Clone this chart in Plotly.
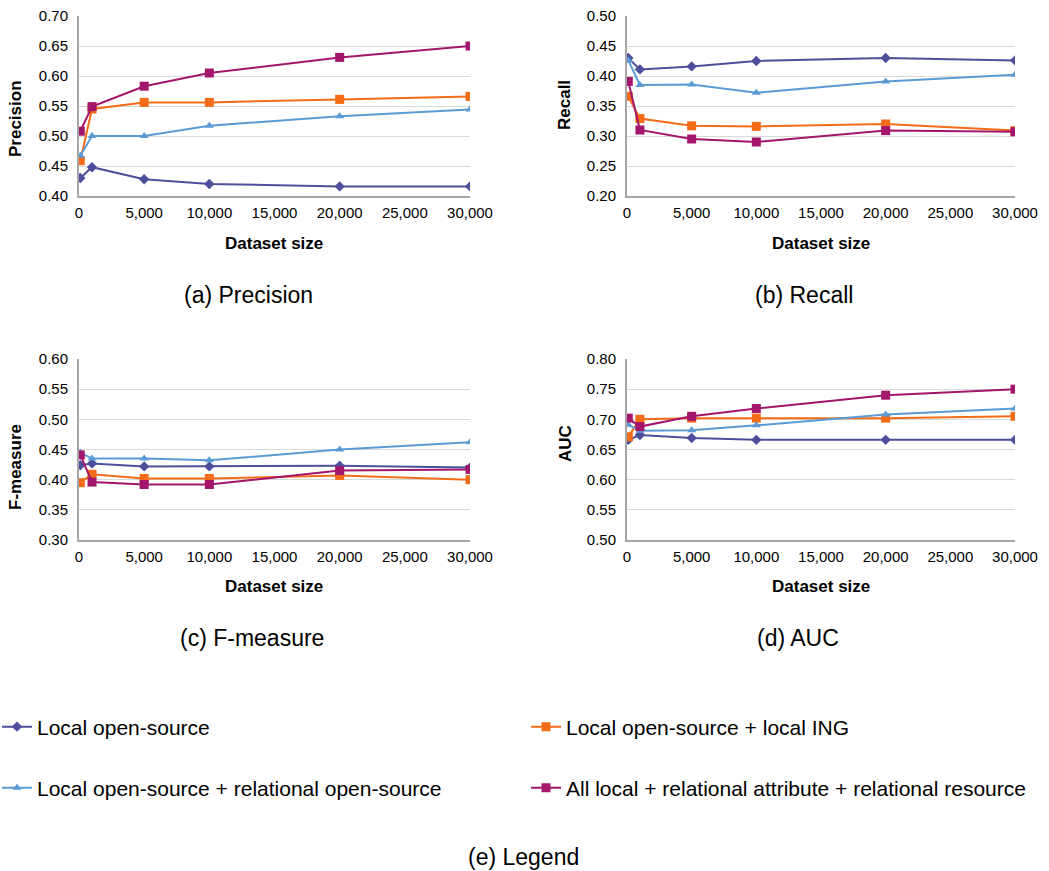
import plotly.graph_objects as go

# ---------------- data ----------------
dataset_size = [100, 1000, 5000, 10000, 20000, 30000]

series_names = [
    "Local open-source",
    "Local open-source + local ING",
    "Local open-source + relational open-source",
    "All local + relational attribute + relational resource",
]

precision_local = [0.430, 0.448, 0.428, 0.420, 0.416, 0.416]
precision_ing = [0.459, 0.545, 0.556, 0.556, 0.561, 0.566]
precision_rel = [0.467, 0.500, 0.500, 0.517, 0.533, 0.544]
precision_all = [0.508, 0.549, 0.583, 0.605, 0.631, 0.650]

recall_local = [0.430, 0.411, 0.416, 0.425, 0.430, 0.426]
recall_ing = [0.366, 0.329, 0.317, 0.316, 0.320, 0.309]
recall_rel = [0.426, 0.385, 0.386, 0.372, 0.391, 0.402]
recall_all = [0.391, 0.310, 0.295, 0.290, 0.309, 0.307]

fmeasure_local = [0.424, 0.427, 0.422, 0.422, 0.423, 0.420]
fmeasure_ing = [0.395, 0.409, 0.402, 0.402, 0.407, 0.400]
fmeasure_rel = [0.445, 0.435, 0.435, 0.432, 0.450, 0.462]
fmeasure_all = [0.441, 0.396, 0.392, 0.392, 0.415, 0.417]

auc_local = [0.666, 0.674, 0.669, 0.666, 0.666, 0.666]
auc_ing = [0.671, 0.700, 0.702, 0.702, 0.702, 0.705]
auc_rel = [0.691, 0.681, 0.682, 0.690, 0.708, 0.718]
auc_all = [0.702, 0.688, 0.705, 0.718, 0.740, 0.750]

panel_titles = ["Precision", "Recall", "F-measure", "AUC"]
captions = ["(a) Precision", "(b) Recall", "(c) F-measure", "(d) AUC", "(e) Legend"]
x_ticks = [0, 5000, 10000, 15000, 20000, 25000, 30000]
y_ranges = [(0.40, 0.70), (0.20, 0.50), (0.30, 0.60), (0.50, 0.80)]

panels = [
    [precision_local, precision_ing, precision_rel, precision_all],
    [recall_local, recall_ing, recall_rel, recall_all],
    [fmeasure_local, fmeasure_ing, fmeasure_rel, fmeasure_all],
    [auc_local, auc_ing, auc_rel, auc_all],
]

# ---------------- style ----------------
W, H = 1049, 871
FONT = "Liberation Sans, Arial, sans-serif"
colors = ["#4E4F9C", "#F46C17", "#5B9BD5", "#A4156C"]
symbols = ["diamond", "square", "triangle-up", "square"]
msizes = [8, 9, 8, 9]

# plot area pixel boxes (left, right, top, bottom)
boxes = [(79, 470, 16, 196), (627, 1015, 16, 196), (79, 470, 359, 540), (627, 1015, 359, 540)]


def px(x):
    return x / W


def py(y):
    return 1 - y / H


fig = go.Figure()
legend_ids = ["legend", "legend2", "legend3", "legend4"]

for p, data in enumerate(panels):
    xa = "x" if p == 0 else f"x{p+1}"
    ya = "y" if p == 0 else f"y{p+1}"
    for s, vals in enumerate(data):
        fig.add_trace(go.Scatter(
            x=dataset_size, y=vals, mode="lines+markers",
            name=series_names[s],
            line=dict(color=colors[s], width=2),
            marker=dict(symbol=symbols[s], size=msizes[s], color=colors[s]),
            xaxis=xa, yaxis=ya,
            showlegend=(p == 0),
            legend=legend_ids[s],
        ))

layout = dict(
    width=W, height=H,
    margin=dict(l=0, r=0, t=0, b=0, autoexpand=False),
    paper_bgcolor="white", plot_bgcolor="white",
    font=dict(family=FONT, size=15, color="#000000"),
    annotations=[],
)

for p, (l, r, t, b) in enumerate(boxes):
    xk = "xaxis" if p == 0 else f"xaxis{p+1}"
    yk = "yaxis" if p == 0 else f"yaxis{p+1}"
    anchor_x = "y" if p == 0 else f"y{p+1}"
    anchor_y = "x" if p == 0 else f"x{p+1}"
    layout[xk] = dict(
        domain=[px(l), px(r)], anchor=anchor_x, range=[0, 30000],
        tickvals=x_ticks, tickformat=",d", showgrid=False, zeroline=False,
        showline=True, linecolor="#A6A6A6", linewidth=2, ticks="",
        ticklabelstandoff=2, tickfont=dict(size=15, family=FONT),
        automargin=False,
    )
    lo, hi = y_ranges[p]
    layout[yk] = dict(
        domain=[py(b), py(t)], anchor=anchor_y, range=[lo, hi],
        dtick=0.05, tickformat=".2f", showgrid=True, gridcolor="#D9D9D9",
        gridwidth=1, zeroline=False, showline=True, linecolor="#A6A6A6",
        linewidth=2, ticks="", ticklabelstandoff=6,
        tickfont=dict(size=15, family=FONT),
        automargin=False,
    )

# axis titles and captions as annotations
ytitle_pos = [(15, 119), (565, 105), (15, 467), (565, 444)]
xtitle_pos = [(274, 243), (821, 243), (274, 586), (821, 586)]
caption_pos = [(248, 295), (804, 295), (252, 638), (798, 638), (523, 857)]

for p in range(4):
    layout["annotations"].append(dict(
        text=f"<b>{panel_titles[p]}</b>", x=px(ytitle_pos[p][0]), y=py(ytitle_pos[p][1]),
        xref="paper", yref="paper", showarrow=False, textangle=-90,
        font=dict(size=17, family=FONT, color="#000000"),
        xanchor="center", yanchor="middle",
    ))
    layout["annotations"].append(dict(
        text="<b>Dataset size</b>", x=px(xtitle_pos[p][0]), y=py(xtitle_pos[p][1]),
        xref="paper", yref="paper", showarrow=False,
        font=dict(size=17, family=FONT, color="#000000"),
        xanchor="center", yanchor="middle",
    ))
for c, (cx, cy) in zip(captions, caption_pos):
    layout["annotations"].append(dict(
        text=c, x=px(cx), y=py(cy), xref="paper", yref="paper", showarrow=False,
        font=dict(size=23, family=FONT, color="#000000"),
        xanchor="center", yanchor="middle",
    ))

legend_pos = [(-3, 727), (526, 727), (-3, 788), (526, 788)]
for lid, (lx, ly) in zip(legend_ids, legend_pos):
    layout[lid] = dict(
        x=px(lx), y=py(ly), xref="paper", yref="paper",
        xanchor="left", yanchor="middle", bgcolor="rgba(0,0,0,0)",
        borderwidth=0, itemwidth=30,
        font=dict(size=21, family=FONT, color="#000000"),
    )

fig.update_layout(**layout)
fig.write_html(
    "out.html",
    config={"displayModeBar": False},
    post_script="document.body.style.margin='0';document.body.style.padding='0';",
)
